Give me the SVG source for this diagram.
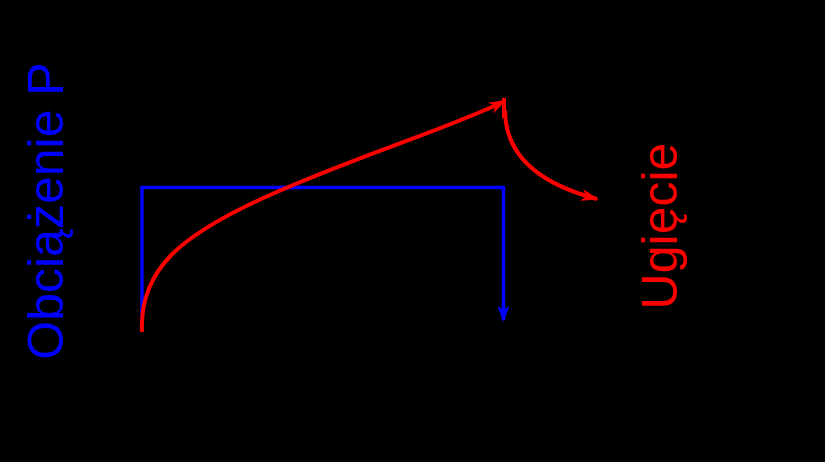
<svg xmlns="http://www.w3.org/2000/svg" width="825" height="462" viewBox="0 0 825 462">
<style>
.lbl{font-family:"Liberation Sans",Arial,sans-serif;font-size:50px;text-anchor:middle}
.blue{stroke:#0000ff;stroke-width:3.5;fill:none}
.red{stroke:#ff0000;stroke-width:4;fill:none}
</style>
<defs>
<marker id="ab" markerWidth="16" markerHeight="12" refX="14" refY="6" orient="auto" markerUnits="userSpaceOnUse" viewBox="0 0 16 12">
<path d="M0,0 L16,6 L0,12 L4,6 z" fill="#0000ff"/>
</marker>
<marker id="ar" markerWidth="18" markerHeight="12" refX="16" refY="6" orient="auto" markerUnits="userSpaceOnUse" viewBox="0 0 18 12">
<path d="M0,0 L18,6 L0,12 L5,6 z" fill="#ff0000"/>
</marker>
</defs>
<rect width="825" height="462" fill="#000"/>
<g id="connectors">
<path class="blue" d="M142,330 V187.5 H503.5 V320" marker-end="url(#ab)"/>
<path class="red" d="M142,332 C139,270 180,235 270,195 C360,155 450,128 505,101" marker-end="url(#ar)"/>
<path class="red" d="M504,98 L504,118" stroke-width="2"/>
<path class="red" d="M505,110 C505,145 525,180 597,199" marker-end="url(#ar)"/>
</g>
<g id="label-load">
<text class="lbl" fill="#0000ff" transform="translate(63,211) rotate(-90)">Obciążenie P</text>
</g>
<g id="label-deflection">
<text class="lbl" fill="#ff0000" font-size="51" transform="translate(677,226) rotate(-90)">Ugięcie</text>
</g>
</svg>
